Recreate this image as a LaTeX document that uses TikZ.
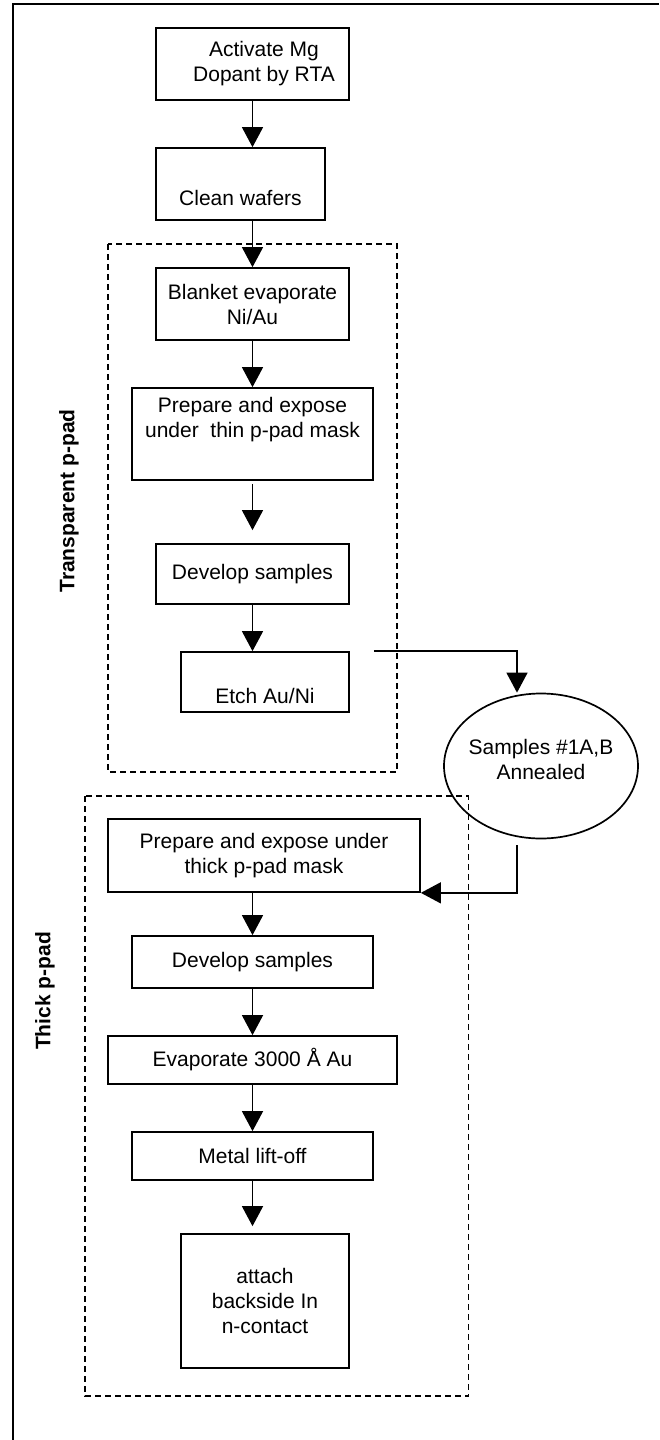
\documentclass[tikz,border=0pt]{standalone}
\usepackage{fontspec}
\setmainfont{Liberation Sans}
\usetikzlibrary{arrows.meta,shapes.geometric}

\begin{document}
\begin{tikzpicture}[x=1pt,y=-1pt,stepbox/.style={draw=black,line width=1.7pt,align=center,inner sep=0pt,font=\fontsize{21}{25}\selectfont},annealbox/.style={draw=black,line width=1.7pt,shape=ellipse,inner sep=0pt},flow/.style={line width=1.4pt,-{Triangle[length=20pt,width=21pt]}},stage/.style={draw=black,line width=1.4pt,dash pattern=on 6pt off 4pt},stagelabel/.style={rotate=90,inner sep=0pt,font=\fontsize{21}{25}\selectfont\bfseries}]
\def\cx{252.5};
\def\wa{193pt};
\def\wb{241pt};

\useasboundingbox (0,0) rectangle (659,1440);
\draw[line width=2.2pt] (12.6,1440) -- (12.6,4) -- (659,4);

\draw[stage] (108,244) rectangle (397,772);
\draw[stage] (85,796) rectangle (468.5,1396);

\node[stagelabel] (lblthin) at (69,501) {Transparent p-pad};
\node[stagelabel] (lblthick) at (45,991) {Thick p-pad};

\node[stepbox,minimum width=\wa,minimum height=72pt] (act) at (\cx,64) {\hspace*{23pt}Activate Mg\\\hspace*{23pt}Dopant by RTA};
\node[stepbox,minimum width=169pt,minimum height=72pt] (clean) at (240.5,184) {\strut\\Clean wafers};
\node[stepbox,minimum width=\wa,minimum height=72pt] (blanket) at (\cx,304) {Blanket evaporate\\Ni/Au};
\node[stepbox,minimum width=\wb,minimum height=92pt] (prepthin) at (\cx,434) {Prepare and expose\\under~ thin p-pad mask\\\strut};
\node[stepbox,minimum width=\wa,minimum height=60pt] (devthin) at (\cx,574) {Develop samples};
\node[stepbox,minimum width=168pt,minimum height=60pt] (etch) at (265,682) {\strut\\Etch Au/Ni};

\node[annealbox,minimum width=194pt,minimum height=145pt,label={[font=\fontsize{21}{25}\selectfont,align=center,yshift=7pt]center:Samples \#1A,B\\Annealed}] (anneal) at (541,766) {};

\node[stepbox,minimum width=312pt,minimum height=73pt] (prepthick) at (264,855.5) {Prepare and expose under\\thick p-pad mask};
\node[stepbox,minimum width=\wb,minimum height=52pt] (devthick) at (\cx,962) {Develop samples};
\node[stepbox,minimum width=289pt,minimum height=48pt] (evap) at (\cx,1060) {Evaporate 3000 Å Au};
\node[stepbox,minimum width=\wb,minimum height=48pt] (lift) at (\cx,1156) {Metal lift-off};
\node[stepbox,minimum width=168pt,minimum height=134pt] (attach) at (265,1301) {attach\\backside In\\n-contact};

\draw[flow] (act.south) -- (clean.north -| act.south);
\draw[flow] (clean.south -| act.south) -- (blanket.north);
\draw[flow] (blanket.south) -- (prepthin.north);
\draw[flow,shorten <=3pt,shorten >=13pt] (prepthin.south) -- (devthin.north);
\draw[flow] (devthin.south) -- (devthin.south |- etch.north);
\draw[flow] ([xshift=24pt]etch.north east) -| ([xshift=-24pt]anneal.north);
\draw[flow] ([xshift=-24pt,yshift=-6pt]anneal.south) |- (prepthick.south east);
\draw[flow] (prepthick.south -| devthick.north) -- (devthick.north);
\draw[flow] (devthick.south) -- (evap.north);
\draw[flow] (evap.south) -- (lift.north);
\draw[flow,shorten >=7pt] (lift.south) -- (lift.south |- attach.north);

\end{tikzpicture}
\end{document}
